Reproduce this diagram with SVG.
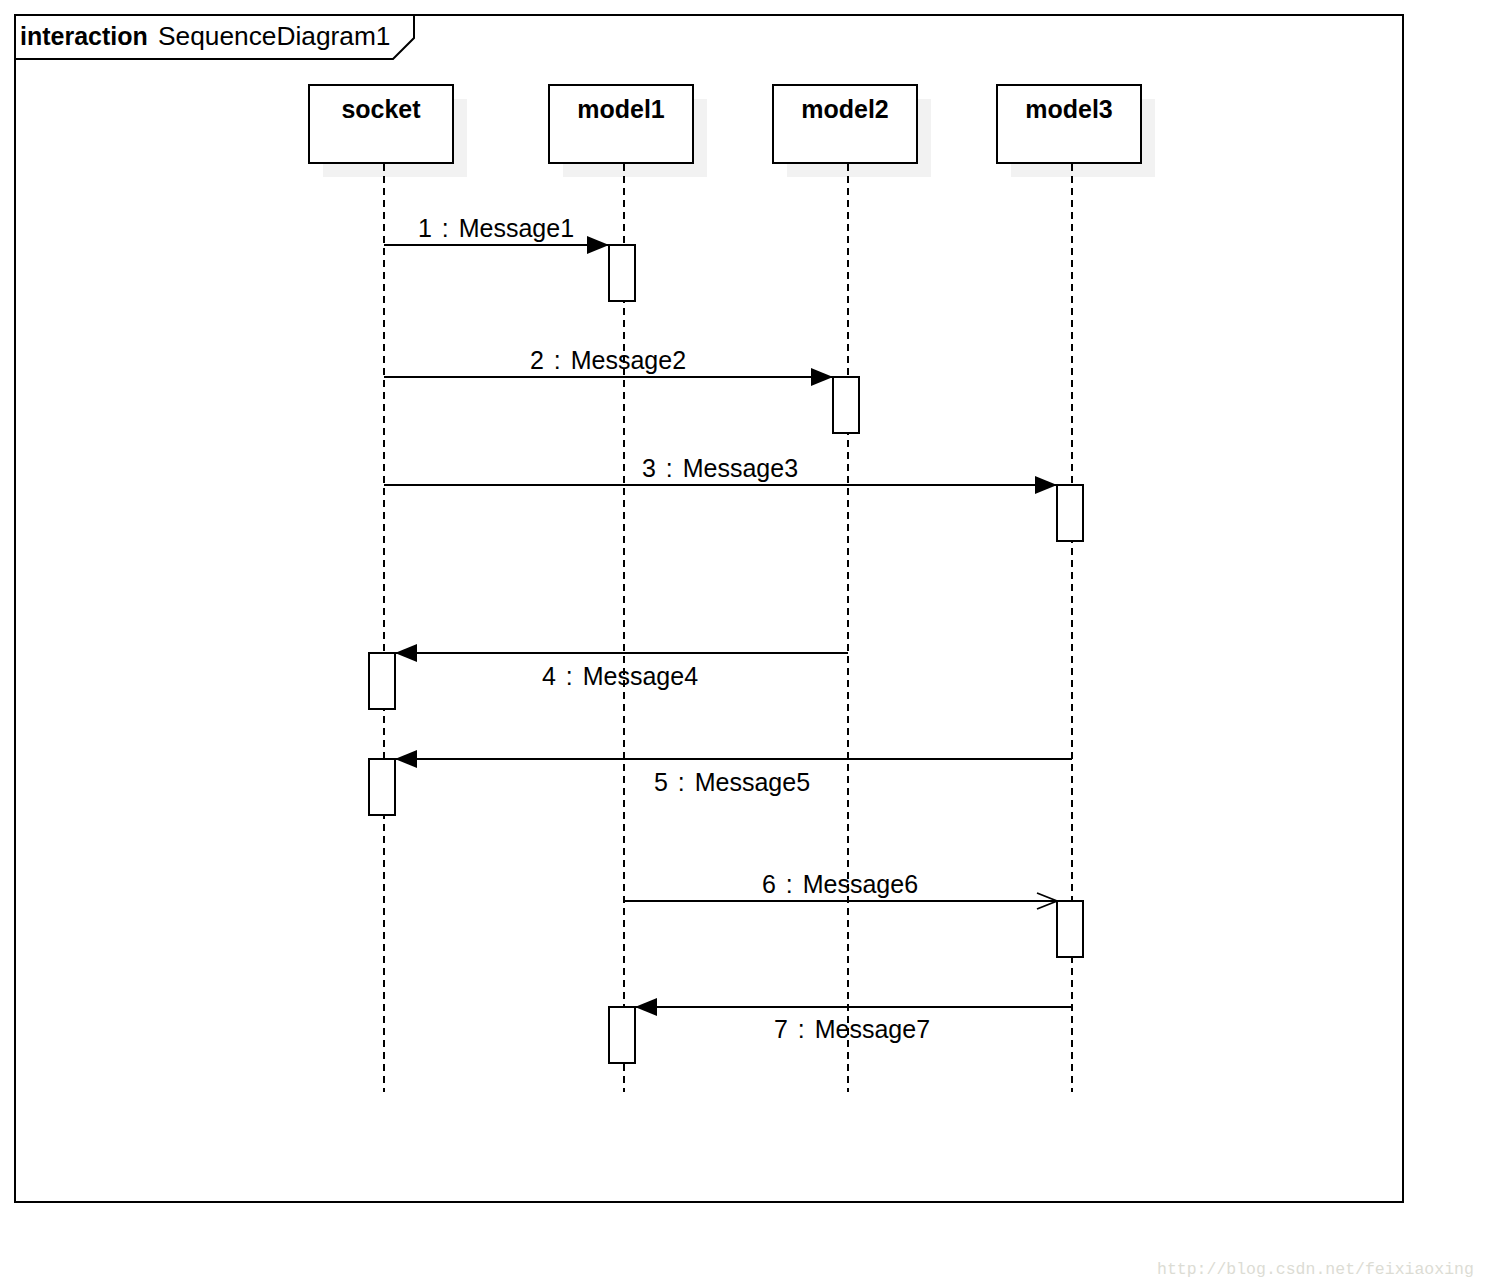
<svg xmlns="http://www.w3.org/2000/svg" width="1488" height="1288" viewBox="0 0 1488 1288">
<style>
.t{font-family:"Liberation Sans",Arial,sans-serif;font-size:25px;fill:#000}
.m{word-spacing:3px}
.b{font-weight:bold}
.box{fill:#fff;stroke:#000;stroke-width:2}
.sh{fill:#f2f2f2;stroke:none}
.ll{stroke:#000;stroke-width:2;stroke-dasharray:7 5;fill:none}
.msg{stroke:#000;stroke-width:1.8;fill:none}
.act{fill:#fff;stroke:#000;stroke-width:2}
</style>
<defs>
<marker id="fill" markerUnits="userSpaceOnUse" markerWidth="24" markerHeight="20" refX="22" refY="9" orient="auto">
<path d="M0,0 L22,9 L0,18 Z" fill="#000"/>
</marker>
<marker id="open" markerUnits="userSpaceOnUse" markerWidth="24" markerHeight="20" refX="21" refY="9" orient="auto">
<path d="M1,1 L21,9 L1,17" fill="none" stroke="#000" stroke-width="1.8"/>
</marker>
</defs>
<rect width="1488" height="1288" fill="#fff"/>
<g id="frame">
<rect x="15" y="15" width="1388" height="1187" fill="none" stroke="#000" stroke-width="2"/>
<path d="M15,59 L393,59 L414,38 L414,15" fill="none" stroke="#000" stroke-width="2"/>
<text x="20" y="45" class="t" font-size="25.5"><tspan class="b">interaction</tspan><tspan x="158" font-size="26.3">SequenceDiagram1</tspan></text>
</g>
<g id="socket">
<rect x="323" y="99" width="144" height="78" class="sh"/>
<rect x="309" y="85" width="144" height="78" class="box"/>
<text x="381" y="118" class="t b" text-anchor="middle">socket</text>
</g>
<g id="model1">
<rect x="563" y="99" width="144" height="78" class="sh"/>
<rect x="549" y="85" width="144" height="78" class="box"/>
<text x="621" y="118" class="t b" text-anchor="middle">model1</text>
</g>
<g id="model2">
<rect x="787" y="99" width="144" height="78" class="sh"/>
<rect x="773" y="85" width="144" height="78" class="box"/>
<text x="845" y="118" class="t b" text-anchor="middle">model2</text>
</g>
<g id="model3">
<rect x="1011" y="99" width="144" height="78" class="sh"/>
<rect x="997" y="85" width="144" height="78" class="box"/>
<text x="1069" y="118" class="t b" text-anchor="middle">model3</text>
</g>
<g id="lifelines">
<line x1="384" y1="164" x2="384" y2="1092" class="ll"/>
<line x1="624" y1="164" x2="624" y2="1092" class="ll"/>
<line x1="848" y1="164" x2="848" y2="1092" class="ll"/>
<line x1="1072" y1="164" x2="1072" y2="1092" class="ll"/>
</g>
<g id="activations">
<rect x="609" y="245" width="26" height="56" class="act"/>
<rect x="833" y="377" width="26" height="56" class="act"/>
<rect x="1057" y="485" width="26" height="56" class="act"/>
<rect x="369" y="653" width="26" height="56" class="act"/>
<rect x="369" y="759" width="26" height="56" class="act"/>
<rect x="1057" y="901" width="26" height="56" class="act"/>
<rect x="609" y="1007" width="26" height="56" class="act"/>
</g>
<g id="connectors">
<line x1="384" y1="245" x2="609" y2="245" class="msg" marker-end="url(#fill)"/>
<line x1="384" y1="377" x2="833" y2="377" class="msg" marker-end="url(#fill)"/>
<line x1="384" y1="485" x2="1057" y2="485" class="msg" marker-end="url(#fill)"/>
<line x1="848" y1="653" x2="395" y2="653" class="msg" marker-end="url(#fill)"/>
<line x1="1072" y1="759" x2="395" y2="759" class="msg" marker-end="url(#fill)"/>
<line x1="624" y1="901" x2="1057" y2="901" class="msg" marker-end="url(#open)"/>
<line x1="1072" y1="1007" x2="635" y2="1007" class="msg" marker-end="url(#fill)"/>
<text x="496" y="237" class="t m" text-anchor="middle">1 : Message1</text>
<text x="608" y="369" class="t m" text-anchor="middle">2 : Message2</text>
<text x="720" y="477" class="t m" text-anchor="middle">3 : Message3</text>
<text x="620" y="685" class="t m" text-anchor="middle">4 : Message4</text>
<text x="732" y="791" class="t m" text-anchor="middle">5 : Message5</text>
<text x="840" y="893" class="t m" text-anchor="middle">6 : Message6</text>
<text x="852" y="1038" class="t m" text-anchor="middle">7 : Message7</text>
</g>
<text x="1157" y="1274" font-family="Liberation Mono,monospace" font-size="16.5" fill="#dcdcd4">http://blog.csdn.net/feixiaoxing</text>
</svg>
